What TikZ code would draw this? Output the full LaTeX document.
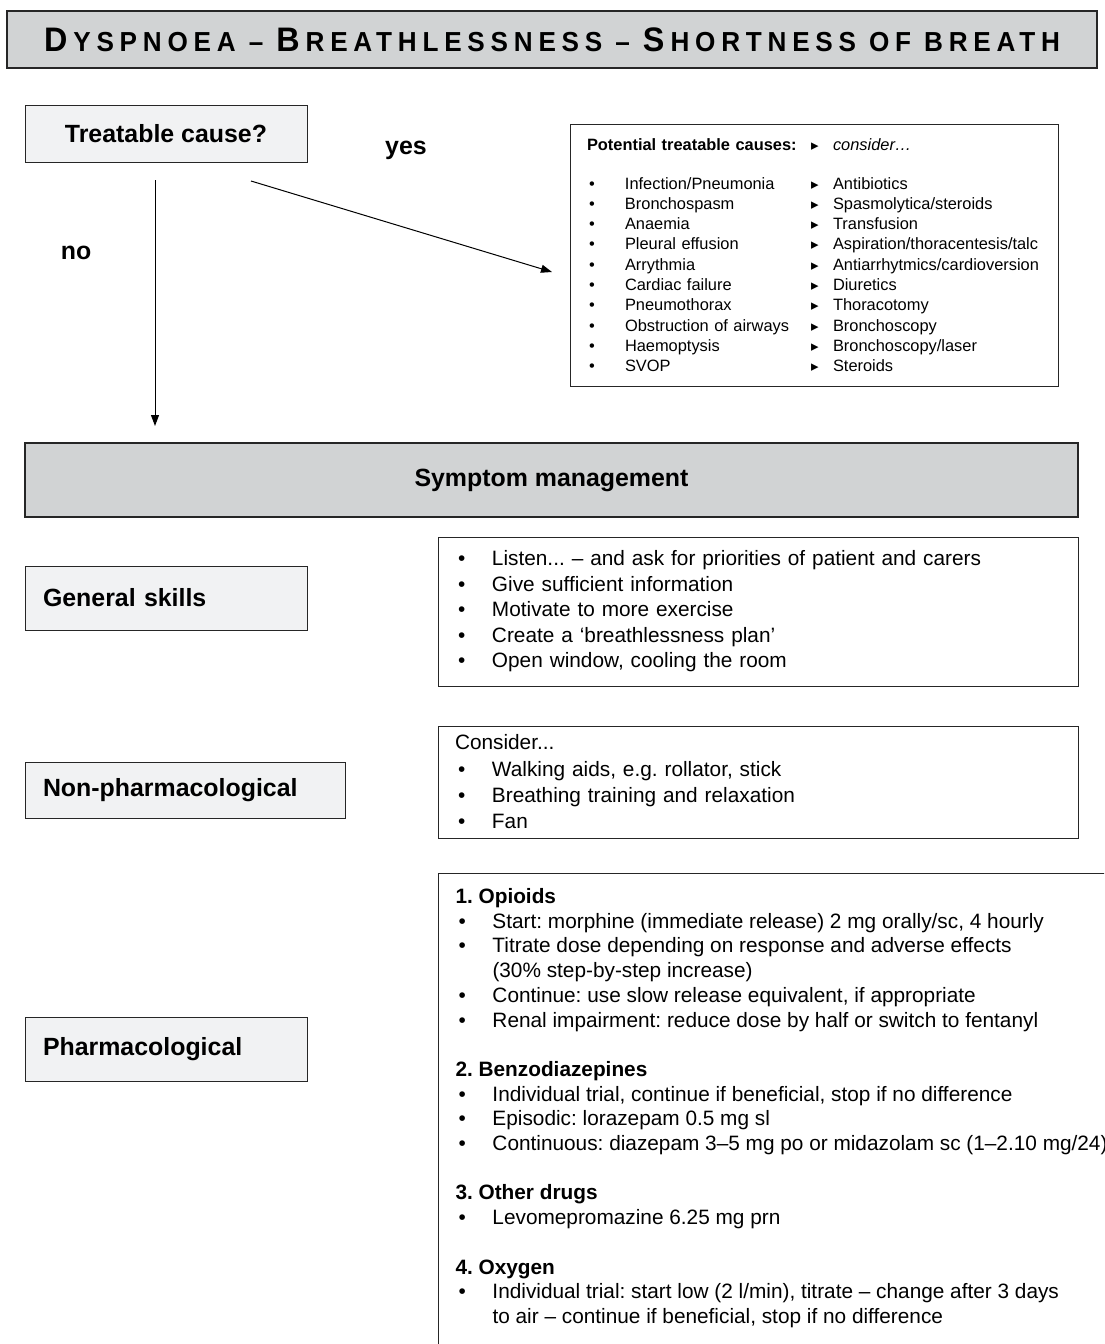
\documentclass[tikz,border=0pt]{standalone}
\usepackage{fontspec}
\setmainfont{Liberation Sans}
\newfontfamily\trifont{DejaVu Sans}
\newfontfamily\spacedfont[LetterSpace=21,FakeStretch=0.95]{Liberation Sans}
\usetikzlibrary{arrows.meta,positioning}
\definecolor{bandgray}{HTML}{D1D3D4}
\definecolor{palegray}{HTML}{F1F2F3}
\frenchspacing
\newcommand\capbig[1]{{\fontsize{34}{36}\selectfont#1}\kern6pt}
\newcommand\itm{\makebox[37pt][l]{\hspace{3pt}•}}
\newcommand\cit{\makebox[38pt][l]{\hspace{2pt}•}}
\newcommand\tri{\makebox[22pt][l]{\trifont\fontsize{15}{15}\selectfont ▸}}

\begin{document}
\begin{tikzpicture}[x=1pt,y=-1pt,every node/.style={font=\fontsize{20.8}{25.5}\selectfont},band/.style={rectangle,draw=black!85,fill=bandgray,line width=1.3pt,inner sep=0pt},askbox/.style={rectangle,draw=black!85,fill=palegray,line width=1pt,inner sep=0pt,font=\fontsize{24.9}{28}\selectfont\bfseries},listbox/.style={rectangle,draw=black!85,fill=white,line width=1pt,inner ysep=0pt,inner xsep=17pt,align=left},answer/.style={font=\fontsize{24.9}{28}\selectfont\bfseries},arrow/.style={-{Triangle[length=11pt,width=8pt]},line width=1pt}]
\clip (0,0) rectangle (1104,1344);
\node[band,minimum width=1090pt,minimum height=57pt](title) at (552,39.5){\spacedfont\bfseries\fontsize{27.5}{30}\selectfont\capbig{D}YSPNOEA – \capbig{B}REATHLESSNESS – \capbig{S}HORTNESS OF BREATH};
\node[askbox,minimum width=282pt,minimum height=57pt](cause) at (166,133.5){Treatable cause?};
\node[answer](yes) at (406,150){yes};
\node[answer](no) at (76,253){no};
\node[listbox,text width=454pt,minimum height=262pt,font=\fontsize{16.4}{20.3}\selectfont](causes) at (814,255){\makebox[224pt][l]{\bfseries Potential treatable causes:}\tri\textit{consider…}\\[18.7pt]
\cit\makebox[186pt][l]{Infection/Pneumonia}\tri Antibiotics\\
\cit\makebox[186pt][l]{Bronchospasm}\tri Spasmolytica/steroids\\
\cit\makebox[186pt][l]{Anaemia}\tri Transfusion\\
\cit\makebox[186pt][l]{Pleural effusion}\tri Aspiration/thoracentesis/talc\\
\cit\makebox[186pt][l]{Arrythmia}\tri Antiarrhytmics/cardioversion\\
\cit\makebox[186pt][l]{Cardiac failure}\tri Diuretics\\
\cit\makebox[186pt][l]{Pneumothorax}\tri Thoracotomy\\
\cit\makebox[186pt][l]{Obstruction of airways}\tri Bronchoscopy\\
\cit\makebox[186pt][l]{Haemoptysis}\tri Bronchoscopy/laser\\
\cit\makebox[186pt][l]{SVOP}\tri Steroids};
\node[band,minimum width=1053pt,minimum height=74pt,font=\fontsize{24.9}{28}\selectfont\bfseries](symptom) at (551.5,480){Symptom management};
\node[askbox,minimum height=64pt,text width=246pt,inner xsep=18pt,align=left](general) at (166,598){General skills};
\node[listbox,text width=606pt,minimum height=149pt](generallist) at (758,611.5){\itm Listen... – and ask for priorities of patient and carers\\
\itm Give sufficient information\\
\itm Motivate to more exercise\\
\itm Create a ‘breathlessness plan’\\
\itm Open window, cooling the room};
\node[askbox,minimum height=56pt,text width=284pt,inner xsep=18pt,align=left](nonpharm) at (185,790){Non-pharmacological};
\node[listbox,text width=606pt,minimum height=112pt,font=\fontsize{20.8}{26.3}\selectfont](nonpharmlist) at (758,782){Consider...\\
\itm Walking aids, e.g. rollator, stick\\
\itm Breathing training and relaxation\\
\itm Fan};
\node[askbox,minimum height=64pt,text width=246pt,inner xsep=18pt,align=left](pharm) at (166,1049){Pharmacological};
\node[listbox,anchor=north west,inner ysep=15pt,font=\fontsize{20.8}{24.7}\selectfont](pharmlist) at (438,873){\parbox[c][490pt][t]{700pt}{{\bfseries 1. Opioids}\\
\itm Start: morphine (immediate release) 2 mg orally/sc, 4 hourly\\
\itm Titrate dose depending on response and adverse effects\\
\hspace*{37pt}(30\% step-by-step increase)\\
\itm Continue: use slow release equivalent, if appropriate\\
\itm Renal impairment: reduce dose by half or switch to fentanyl\\[24.7pt]
{\bfseries 2. Benzodiazepines}\\
\itm Individual trial, continue if beneficial, stop if no difference\\
\itm Episodic: lorazepam 0.5 mg sl\\
\itm Continuous: diazepam 3–5 mg po or midazolam sc (1–2.10 mg/24)\\[24.7pt]
{\bfseries 3. Other drugs}\\
\itm Levomepromazine 6.25 mg prn\\[24.7pt]
{\bfseries 4. Oxygen}\\
\itm Individual trial: start low (2 l/min), titrate – change after 3 days\\
\hspace*{37pt}to air – continue if beneficial, stop if no difference}};
\coordinate(nofrom) at (155,180);\coordinate(noto) at (155,426);\coordinate(yesfrom) at (251,181);\coordinate(yesto) at (552,272);
\draw[arrow](nofrom)--(noto);\draw[arrow](yesfrom)--(yesto);
\end{tikzpicture}
\end{document}
